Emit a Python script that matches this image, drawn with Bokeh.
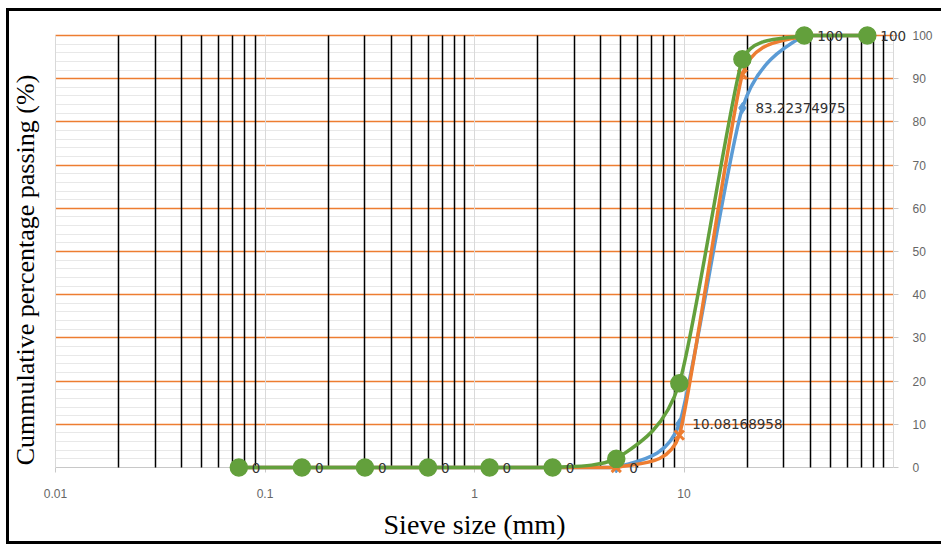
import math
from bokeh.plotting import figure
from bokeh.models import FixedTicker, LabelSet, Label, ColumnDataSource, CustomJSTickFormatter
from bokeh.core.properties import value
from bokeh.embed import file_html
from bokeh.resources import INLINE

# ---------------- data ----------------
sieve_mm = [0.075, 0.15, 0.3, 0.6, 1.18, 2.36, 4.75, 9.5, 19, 37.5, 75]
blue_pass = [0, 0, 0, 0, 0, 0, 0, 10.08168958, 83.22374975, 100, 100]
orange_pass = [0, 0, 0, 0, 0, 0, 0, 7.5, 91.0, 100, 100]
green_pass = [0, 0, 0, 0, 0, 0, 2.0, 19.5, 94.5, 100, 100]
blue_labels = ["0", "0", "0", "0", "0", "0", "0", "10.08168958", "83.22374975", "100", "100"]
x_tick_values = [0.01, 0.1, 1, 10]
y_tick_values = [0, 10, 20, 30, 40, 50, 60, 70, 80, 90, 100]
x_title = "Sieve size (mm)"
y_title = "Cummulative percentage passing (%)"

BLUE = "#5B9BD5"
ORANGE = "#ED7D31"
GREEN = "#63A03C"

# ---------------- layout (pixels) ----------------
W, H = 932, 530
PAD_L, PAD_R, PAD_T, PAD_B = 46, 48, 24, 74   # room around the chart area
X0, X1 = 0.01, 100
Y0, Y1 = 0, 100
AXIS_W, AXIS_H = W - PAD_L - PAD_R, H - PAD_T - PAD_B
PX_DEC = AXIS_W / (math.log10(X1) - math.log10(X0))
PX_UNIT = AXIS_H / (Y1 - Y0)
lx = lambda px: 10 ** (math.log10(X0) + px / PX_DEC)   # screen offset from X0 -> data x
X_VIEW = (lx(-PAD_L), lx(AXIS_W + PAD_R))
Y_VIEW = (Y0 - PAD_B / PX_UNIT, Y1 + PAD_T / PX_UNIT)

p = figure(width=W, height=H, x_axis_type="log", x_range=X_VIEW, y_range=Y_VIEW,
           y_axis_location="right", output_backend="svg", toolbar_location=None,
           title=None, min_border_left=0, min_border_right=0,
           min_border_top=0, min_border_bottom=0)
p.styles = {"margin-left": "9px", "margin-top": "11px", "box-shadow": "0 0 0 3px black"}
p.outline_line_color = None
p.background_fill_color = "white"
p.border_fill_color = "white"

# grids
decades = [X0 * 10 ** k for k in range(5)]
minor_x = [m * X0 * 10 ** k for k in range(4) for m in range(2, 10)]
xg = p.xgrid[0]
yg = p.ygrid[0]
xg.ticker = FixedTicker(ticks=decades, minor_ticks=minor_x)
xg.grid_line_color = "#D9D9D9"
xg.grid_line_width = 1
xg.minor_grid_line_color = "black"
xg.minor_grid_line_width = 1.5
xg.bounds = (X0, X1)
xg.cross_bounds = (Y0, Y1)

yg.ticker = FixedTicker(ticks=y_tick_values[1:],
                        minor_ticks=[v for v in range(2, 100, 2) if v % 10])
yg.grid_line_color = ORANGE
yg.grid_line_width = 1.5
yg.minor_grid_line_color = "#E8E8E8"
yg.minor_grid_line_width = 1
yg.bounds = (Y0, Y1)
yg.cross_bounds = (X0, X1)
p.center = [yg, xg] + [r for r in p.center if r is not xg and r is not yg]

# axes (placed at the chart edges inside the canvas)
ax = p.xaxis[0]
ax.fixed_location = Y0
ax.level = "underlay"
ax.ticker = FixedTicker(ticks=x_tick_values)
ax.formatter = CustomJSTickFormatter(code="return String(tick)")
ax.bounds = (X0, X1)
ax.axis_line_color = "#C8C8C8"
ax.major_tick_line_color = "#C8C8C8"
ax.major_tick_in = 0
ax.major_tick_out = 5
ax.minor_tick_in = 0
ax.minor_tick_out = 0
ax.major_label_standoff = 16
ax.major_label_text_font = "Liberation Sans"
ax.major_label_text_font_size = "12px"
ax.major_label_text_color = "#666666"

ay = p.yaxis[0]
ay.fixed_location = X1
ay.level = "underlay"
ay.bounds = (Y0, Y1)
ay.ticker = FixedTicker(ticks=y_tick_values)
ay.axis_line_color = "#C8C8C8"
ay.major_tick_line_color = "#C8C8C8"
ay.major_tick_in = 0
ay.major_tick_out = 5
ay.minor_tick_in = 0
ay.minor_tick_out = 0
ay.major_label_standoff = 14
ay.major_label_text_font = "Liberation Sans"
ay.major_label_text_font_size = "12px"
ay.major_label_text_color = "#666666"

# axis titles
p.add_layout(Label(x=lx(-30), y=(Y0 + Y1) / 2 - 18.5 / PX_UNIT, text=y_title,
                   angle=90, angle_units="deg", text_align="center", text_baseline="middle",
                   text_font="Liberation Serif", text_font_size="26px", text_color="black"))
p.add_layout(Label(x=lx(AXIS_W / 2), y=Y0 - 57 / PX_UNIT, text=x_title,
                   text_align="center", text_baseline="alphabetic",
                   text_font="Liberation Serif", text_font_size="28px", text_color="black"))


# ---------------- smoothed (Excel-like) bezier segments ----------------
def smooth_segments(xs, ys):
    u = [(math.log10(x) - math.log10(X0)) * PX_DEC for x in xs]
    v = [y * PX_UNIT for y in ys]
    n = len(u)

    def tangent(i):
        a = max(i - 1, 0)
        b = min(i + 1, n - 1)
        d01 = math.hypot(u[i] - u[a], v[i] - v[a])
        d12 = math.hypot(u[b] - u[i], v[b] - v[i])
        d02 = math.hypot(u[b] - u[a], v[b] - v[a])
        if d02 == 0:
            return 0.0, 0.0
        f = 1.0 / 6.0
        arm = d02 * f
        lim = min(d01, d12) / 2.0 if (a != i and b != i) else max(d01, d12) / 2.0
        if arm > lim:
            f = lim / d02
        return (u[b] - u[a]) * f, (v[b] - v[a]) * f

    # the chart area clips the curve to the axis range
    clamp = lambda yv: min(max(yv, Y0), Y1)
    tans = [tangent(i) for i in range(n)]
    seg = dict(x0=[], y0=[], x1=[], y1=[], cx0=[], cy0=[], cx1=[], cy1=[])
    for i in range(n - 1):
        seg["x0"].append(xs[i]); seg["y0"].append(ys[i])
        seg["x1"].append(xs[i + 1]); seg["y1"].append(ys[i + 1])
        seg["cx0"].append(lx(u[i] + tans[i][0]))
        seg["cy0"].append(clamp((v[i] + tans[i][1]) / PX_UNIT))
        seg["cx1"].append(lx(u[i + 1] - tans[i + 1][0]))
        seg["cy1"].append(clamp((v[i + 1] - tans[i + 1][1]) / PX_UNIT))
    return seg


for ys, col in [(blue_pass, BLUE), (orange_pass, ORANGE), (green_pass, GREEN)]:
    seg = smooth_segments(sieve_mm, ys)
    p.bezier(source=ColumnDataSource(seg), x0="x0", y0="y0", x1="x1", y1="y1",
             cx0="cx0", cy0="cy0", cx1="cx1", cy1="cy1",
             line_color=col, line_width=3.5)
    if col == BLUE:
        p.scatter(sieve_mm, ys, marker="diamond", size=11, fill_color=BLUE, line_color=BLUE)
    elif col == ORANGE:
        p.scatter(sieve_mm, ys, marker="x", size=13, line_color=ORANGE, line_width=3)
    else:
        p.scatter(sieve_mm, ys, marker="circle", size=17, fill_color=GREEN,
                  line_color=GREEN, line_width=1.5)

lbl_src = ColumnDataSource(dict(x=sieve_mm, y=blue_pass, t=blue_labels))
p.add_layout(LabelSet(x="x", y="y", text="t", source=lbl_src, x_offset=13,
                      text_align="left", text_baseline="middle",
                      text_font=value("DejaVu Sans"), text_font_size="13.5px",
                      text_color="#333333"))

open("out.html", "w").write(file_html(p, INLINE))
